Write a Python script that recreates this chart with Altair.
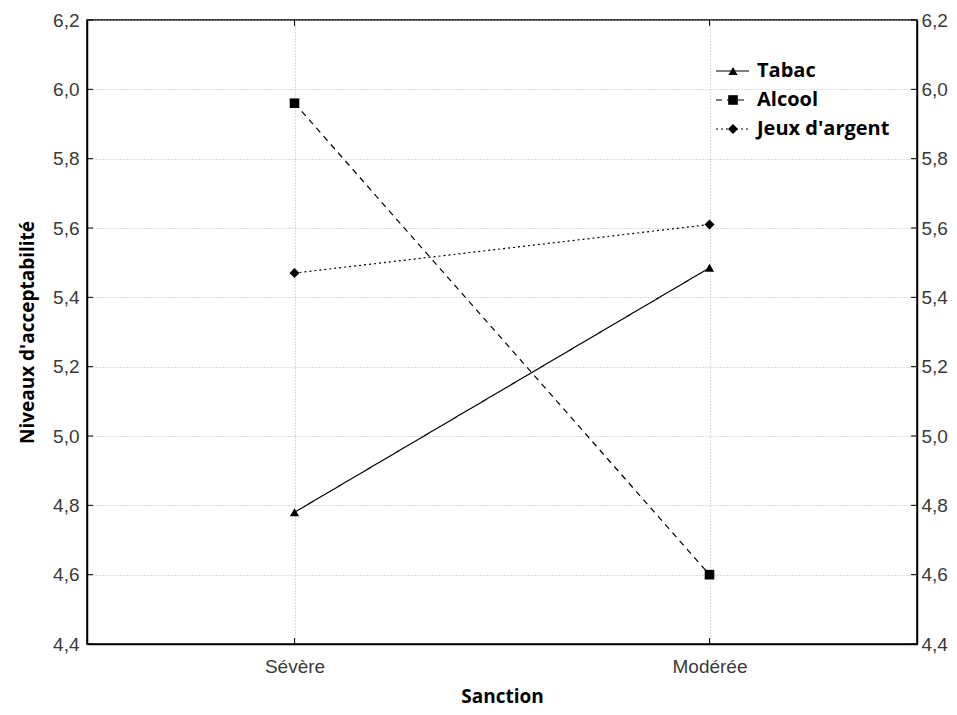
import altair as alt
import pandas as pd

sanctions = ["Sévère", "Modérée"]
series = ["Tabac", "Alcool", "Jeux d'argent"]
tabac = [4.78, 5.485]
alcool = [5.96, 4.60]
jeux = [5.47, 5.61]
y_ticks = [4.4, 4.6, 4.8, 5.0, 5.2, 5.4, 5.6, 5.8, 6.0, 6.2]

rows = []
for name, vals in zip(series, [tabac, alcool, jeux]):
    for s, v in zip(sanctions, vals):
        rows.append({"Sanction": s, "Série": name, "Valeur": v})
df = pd.DataFrame(rows)
legend_df = pd.DataFrame({"Série": series, "row": [0, 1, 2]})
ytick_df = pd.DataFrame({"v": y_ticks})
xtick_df = pd.DataFrame({"Sanction": sanctions})

W, H = 830, 624
dom = [4.4, 6.2]
label_expr = "replace(format(datum.value, '.1f'), '.', ',')"

dash_scale = alt.Scale(domain=series, range=[[1, 0], [6, 5], [2, 3]])
shape_scale = alt.Scale(domain=series, range=["triangle-up", "square", "diamond"])
size_scale = alt.Scale(domain=series, range=[85, 100, 80])

xenc = alt.X("Sanction:N", sort=sanctions,
             scale=alt.Scale(type="point", padding=0.5),
             axis=alt.Axis(title="Sanction", labelAngle=0, grid=True, ticks=False,
                           gridDash=[1, 2], gridColor="#b8b8b8", gridWidth=1,
                           labelPadding=13, titlePadding=11))

yscale = alt.Scale(domain=dom, nice=False, zero=False)

base = alt.Chart(df)

lines = base.mark_line(color="black", strokeWidth=1.2).encode(
    x=xenc,
    y=alt.Y("Valeur:Q", scale=yscale,
            axis=alt.Axis(values=y_ticks, labelExpr=label_expr, title="Niveaux d'acceptabilité",
                          grid=True, gridDash=[1, 2], gridColor="#b8b8b8", ticks=False,
                          labelPadding=8, titlePadding=15)),
    strokeDash=alt.StrokeDash("Série:N", scale=dash_scale, legend=None),
    detail="Série:N",
)

points = base.mark_point(filled=True, color="black", opacity=1).encode(
    x=xenc,
    y=alt.Y("Valeur:Q", scale=yscale, axis=None),
    shape=alt.Shape("Série:N", scale=shape_scale, legend=None),
    size=alt.Size("Série:N", scale=size_scale, legend=None),
)

right_axis = base.mark_point(opacity=0).encode(
    x=xenc,
    y=alt.Y("Valeur:Q", scale=yscale,
            axis=alt.Axis(orient="right", values=y_ticks, labelExpr=label_expr, title=None,
                          grid=False, ticks=False, labelPadding=4)),
)

tk = alt.Chart(ytick_df)
left_ticks = tk.mark_rule(color="black", strokeWidth=1).encode(
    x=alt.value(0), x2=alt.value(6), y=alt.Y("v:Q", scale=yscale, axis=None))
right_ticks = tk.mark_rule(color="black", strokeWidth=1).encode(
    x=alt.value(W - 6), x2=alt.value(W), y=alt.Y("v:Q", scale=yscale, axis=None))
xk = alt.Chart(xtick_df)
bottom_ticks = xk.mark_rule(color="black", strokeWidth=1).encode(
    x=xenc, y=alt.value(H - 6), y2=alt.value(H))
top_ticks = xk.mark_rule(color="black", strokeWidth=1).encode(
    x=xenc, y=alt.value(0), y2=alt.value(6))

lg = alt.Chart(legend_df).transform_calculate(ly="51 + 29 * datum.row")
leg_lines = lg.mark_rule(color="black", strokeWidth=1.2).encode(
    x=alt.value(629), x2=alt.value(662),
    y=alt.Y("ly:Q", scale=None, axis=None),
    strokeDash=alt.StrokeDash("Série:N", scale=dash_scale, legend=None),
)
leg_pts = lg.mark_point(filled=True, color="black", opacity=1).encode(
    x=alt.value(646),
    y=alt.Y("ly:Q", scale=None, axis=None),
    shape=alt.Shape("Série:N", scale=shape_scale, legend=None),
    size=alt.Size("Série:N", scale=size_scale, legend=None),
)
leg_txt = lg.mark_text(align="left", baseline="middle", font="Open Sans", fontWeight="bold",
                       fontSize=20, color="black").encode(
    x=alt.value(670),
    y=alt.Y("ly:Q", scale=None, axis=None),
    text="Série:N",
)

chart = alt.layer(
    lines, points, right_axis, left_ticks, right_ticks, bottom_ticks, top_ticks,
    leg_lines, leg_pts, leg_txt,
).resolve_scale(y="independent").properties(
    width=W, height=H,
    padding={"left": 79, "top": 12, "right": 31, "bottom": 63},
    autosize=alt.AutoSizeParams(type="none"),
).configure_axis(
    labelFont="Liberation Sans", labelFontSize=19, labelColor="#3a3a3a",
    titleFont="Open Sans", titleFontWeight="bold", titleFontSize=19, titleColor="black",
    domainColor="black", domainWidth=1.5,
).configure_view(stroke="black", strokeWidth=1.5)

chart.save("out.html", embed_options={"renderer": "svg", "actions": False})
